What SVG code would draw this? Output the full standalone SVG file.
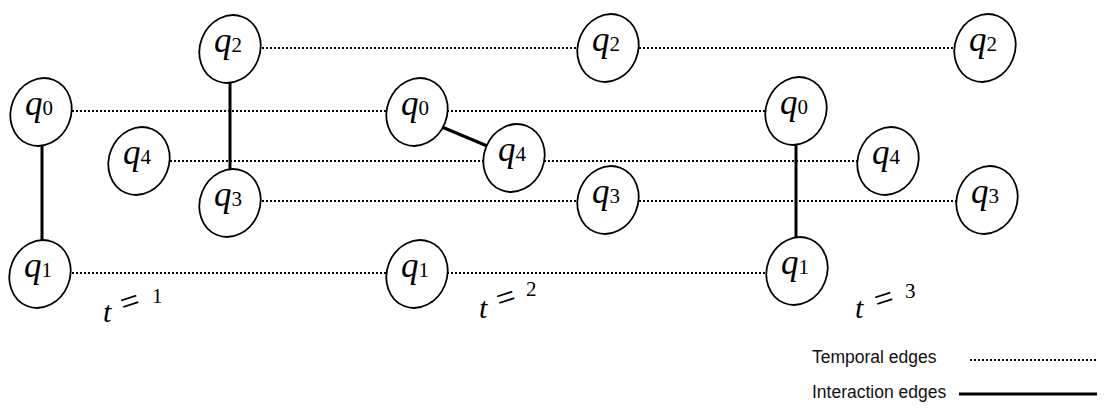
<svg xmlns="http://www.w3.org/2000/svg" width="1104" height="409" viewBox="0 0 1104 409">
<style>
.node ellipse{fill:#fff;stroke:#000;stroke-width:1.8}
.q{font-family:"Liberation Serif",serif;font-style:italic;font-size:35px;fill:#000}
.d{font-family:"Liberation Serif",serif;font-style:normal;font-size:21px}
.temporal line{stroke:#000;stroke-width:2;stroke-dasharray:2 2}
.interaction line{stroke:#000;stroke-width:3}
.t{font-family:"Liberation Serif",serif;fill:#000}
.legend{font-family:"Liberation Sans",Arial,sans-serif;font-size:17.5px;fill:#111}
</style>
<rect width="1104" height="409" fill="#fff"/>
<g id="connectors">
<g class="temporal">
<line x1="72" y1="111" x2="388" y2="111"/>
<line x1="447" y1="111" x2="766" y2="111"/>
<line x1="262" y1="48" x2="578" y2="48"/>
<line x1="639" y1="48" x2="955" y2="48"/>
<line x1="170" y1="161" x2="485" y2="161"/>
<line x1="544" y1="161" x2="858" y2="161"/>
<line x1="262" y1="201" x2="578" y2="201"/>
<line x1="639" y1="201" x2="957" y2="201"/>
<line x1="72" y1="273" x2="388" y2="273"/>
<line x1="447" y1="273" x2="767" y2="273"/>
</g>
<g class="interaction">
<line x1="42" y1="146" x2="42" y2="242"/>
<line x1="230" y1="81" x2="230" y2="172"/>
<line x1="442" y1="127" x2="492" y2="148"/>
<line x1="796" y1="144" x2="796" y2="239"/>
</g>
</g>
<g id="t1-q0" class="node" transform="translate(41,112)"><ellipse rx="30" ry="34.5" transform="rotate(22)"/><text class="q" x="-16" y="3">q<tspan class="d">0</tspan></text></g>
<g id="t1-q1" class="node" transform="translate(40,274)"><ellipse rx="30" ry="34.5" transform="rotate(22)"/><text class="q" x="-16" y="3">q<tspan class="d">1</tspan></text></g>
<g id="t1-q4" class="node" transform="translate(139,161)"><ellipse rx="30" ry="34.5" transform="rotate(22)"/><text class="q" x="-16" y="3">q<tspan class="d">4</tspan></text></g>
<g id="t1-q2" class="node" transform="translate(230,49)"><ellipse rx="30" ry="34.5" transform="rotate(22)"/><text class="q" x="-16" y="3">q<tspan class="d">2</tspan></text></g>
<g id="t1-q3" class="node" transform="translate(230,203)"><ellipse rx="30" ry="34.5" transform="rotate(22)"/><text class="q" x="-16" y="3">q<tspan class="d">3</tspan></text></g>
<g id="t2-q0" class="node" transform="translate(417,112)"><ellipse rx="30" ry="34.5" transform="rotate(22)"/><text class="q" x="-16" y="3">q<tspan class="d">0</tspan></text></g>
<g id="t2-q4" class="node" transform="translate(514,158)"><ellipse rx="30" ry="34.5" transform="rotate(22)"/><text class="q" x="-16" y="3">q<tspan class="d">4</tspan></text></g>
<g id="t2-q2" class="node" transform="translate(608,48)"><ellipse rx="30" ry="34.5" transform="rotate(22)"/><text class="q" x="-16" y="3">q<tspan class="d">2</tspan></text></g>
<g id="t2-q3" class="node" transform="translate(608,200)"><ellipse rx="30" ry="34.5" transform="rotate(22)"/><text class="q" x="-16" y="3">q<tspan class="d">3</tspan></text></g>
<g id="t2-q1" class="node" transform="translate(417,274)"><ellipse rx="30" ry="34.5" transform="rotate(22)"/><text class="q" x="-16" y="3">q<tspan class="d">1</tspan></text></g>
<g id="t3-q0" class="node" transform="translate(796,111)"><ellipse rx="30" ry="34.5" transform="rotate(22)"/><text class="q" x="-16" y="3">q<tspan class="d">0</tspan></text></g>
<g id="t3-q1" class="node" transform="translate(797,271)"><ellipse rx="30" ry="34.5" transform="rotate(22)"/><text class="q" x="-16" y="3">q<tspan class="d">1</tspan></text></g>
<g id="t3-q4" class="node" transform="translate(888,161)"><ellipse rx="30" ry="34.5" transform="rotate(22)"/><text class="q" x="-16" y="3">q<tspan class="d">4</tspan></text></g>
<g id="t3-q2" class="node" transform="translate(985,48)"><ellipse rx="30" ry="34.5" transform="rotate(22)"/><text class="q" x="-16" y="3">q<tspan class="d">2</tspan></text></g>
<g id="t3-q3" class="node" transform="translate(987,200)"><ellipse rx="30" ry="34.5" transform="rotate(22)"/><text class="q" x="-16" y="3">q<tspan class="d">3</tspan></text></g>
<g id="label-t1" class="t">
<text x="103" y="322" font-size="30" font-style="italic">t</text>
<text x="0" y="0" font-size="34" transform="translate(124,315) rotate(-18)">=</text>
<text x="152" y="303" font-size="21">1</text>
</g>
<g id="label-t2" class="t">
<text x="479" y="318" font-size="30" font-style="italic">t</text>
<text x="0" y="0" font-size="34" transform="translate(500,311) rotate(-18)">=</text>
<text x="526" y="296" font-size="21">2</text>
</g>
<g id="label-t3" class="t">
<text x="855" y="318" font-size="30" font-style="italic">t</text>
<text x="0" y="0" font-size="34" transform="translate(878,312) rotate(-18)">=</text>
<text x="905" y="298" font-size="21">3</text>
</g>
<g id="legend">
<text class="legend" x="812" y="363">Temporal edges</text>
<line x1="970" y1="360" x2="1096" y2="360" stroke="#000" stroke-width="2" stroke-dasharray="2 2"/>
<text class="legend" x="812" y="398">Interaction edges</text>
<line x1="959" y1="394" x2="1097" y2="394" stroke="#000" stroke-width="3"/>
</g>
</svg>
